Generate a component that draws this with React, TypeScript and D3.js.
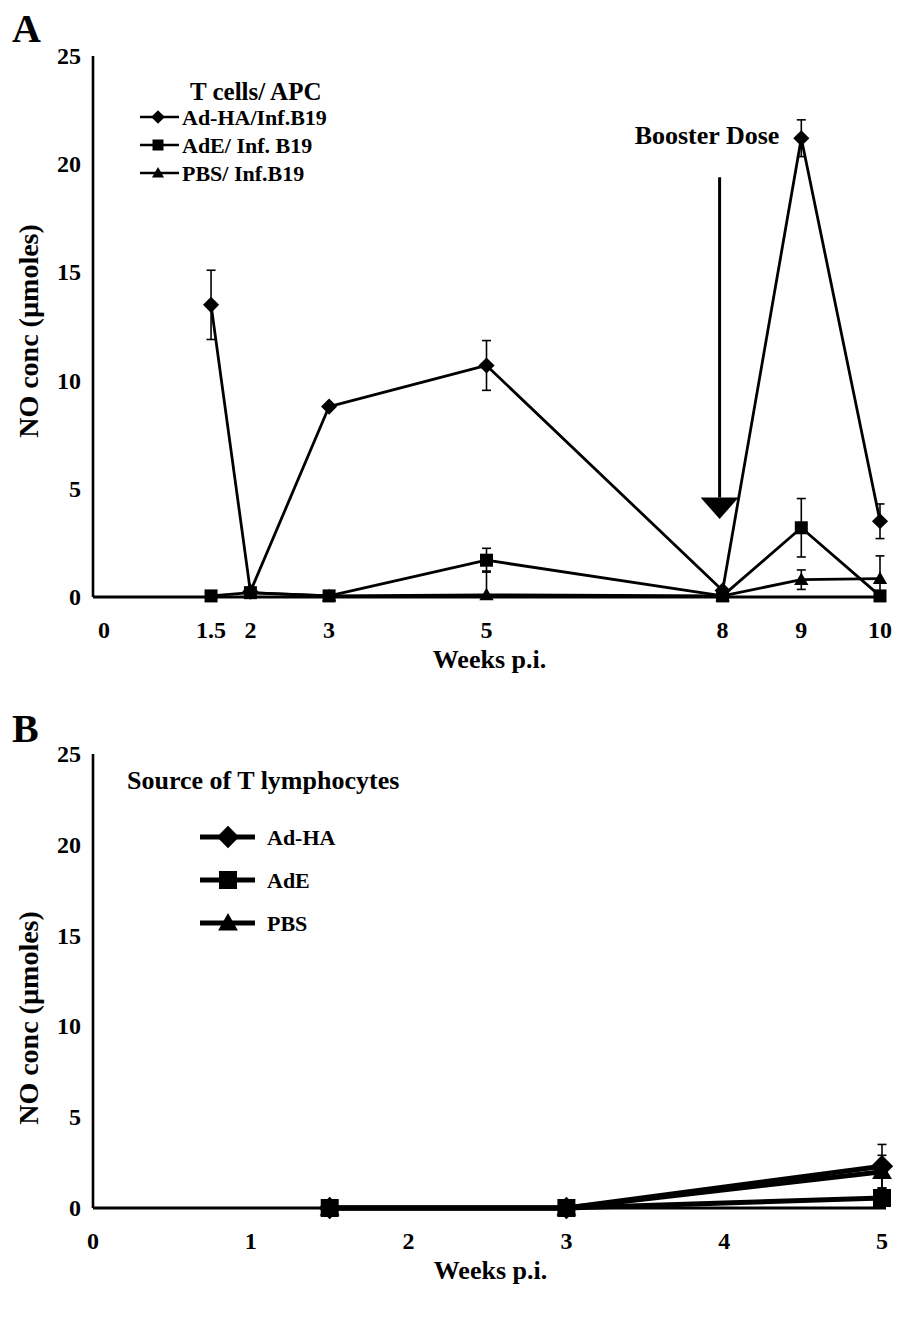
import React from "react";
import * as d3 from "d3";

// ---------- Data ----------
const ticksXA = [0, 1.5, 2, 3, 5, 8, 9, 10];
const ticksY = [0, 5, 10, 15, 20, 25];
const ticksXB = [0, 1, 2, 3, 4, 5];

const weeksA_HA = [1.5, 2, 3, 5, 8, 9, 10];
const adHA_A = [13.5, 0.25, 8.8, 10.7, 0.3, 21.2, 3.5];
const adHA_A_err = [1.6, 0, 0, 1.15, 0, 0.85, 0.8];

const weeksA_E = [1.5, 2, 3, 5, 8, 9, 10];
const adE_A = [0.05, 0.2, 0.05, 1.7, 0.05, 3.2, 0.05];
const adE_A_err = [0, 0, 0, 0.55, 0, 1.35, 0];

const weeksA_P = [2, 3, 5, 8, 9, 10];
const pbs_A = [0.2, 0.05, 0.1, 0.05, 0.8, 0.85];
const pbs_A_err = [0, 0, 1.1, 0, 0.45, 1.05];

const weeksB = [1.5, 3, 5];
const adHA_B = [0, 0, 2.3];
const adHA_B_err = [0, 0, 1.2];
const adE_B = [0, 0, 0.55];
const adE_B_err = [0, 0, 0];
const pbs_B = [0, 0, 2.0];
const pbs_B_err = [0, 0, 0.9];

const legendA = ["Ad-HA/Inf.B19", "AdE/ Inf. B19", "PBS/ Inf.B19"];
const legendB = ["Ad-HA", "AdE", "PBS"];

const FONT = "'Liberation Serif', 'Times New Roman', serif";

type Shape = "diamond" | "square" | "triangle";

function Marker({ x, y, shape, s }: { x: number; y: number; shape: Shape; s: number }) {
  if (shape === "square") {
    return <rect x={x - s / 2} y={y - s / 2} width={s} height={s} fill="#000" />;
  }
  if (shape === "diamond") {
    const h = s * 0.62;
    return (
      <path d={`M${x},${y - h}L${x + h},${y}L${x},${y + h}L${x - h},${y}Z`} fill="#000" />
    );
  }
  const h = s * 0.55;
  return (
    <path d={`M${x},${y - h}L${x + h},${y + h * 0.75}L${x - h},${y + h * 0.75}Z`} fill="#000" />
  );
}

type Series = { weeks: number[]; vals: number[]; err: number[]; shape: Shape };

function Panel({
  top,
  bottom,
  xDomainMax,
  xRangeMax,
  xTicks,
  series,
  lineW,
  markerS,
  letter,
  letterY,
  titleY,
}: {
  top: number;
  bottom: number;
  xDomainMax: number;
  xRangeMax: number;
  xTicks: number[];
  series: Series[];
  lineW: number;
  markerS: number;
  letter: string;
  letterY: number;
  titleY: number;
}) {
  const x = d3.scaleLinear().domain([0, xDomainMax]).range([93, xRangeMax]);
  const y = d3.scaleLinear().domain([0, 25]).range([bottom, top]);
  const line = d3
    .line<[number, number]>()
    .x((d) => x(d[0]))
    .y((d) => y(d[1]));
  return (
    <g>
      <text x={12} y={letterY} fontFamily={FONT} fontWeight="bold" fontSize={40}>
        {letter}
      </text>
      {/* axes */}
      <line x1={x(0)} x2={x(0)} y1={y(25)} y2={y(0)} stroke="#000" strokeWidth={2.6} />
      <line x1={x(0)} x2={x(xDomainMax) + 4} y1={y(0)} y2={y(0)} stroke="#000" strokeWidth={3} />
      {ticksY.map((t) => (
        <text
          key={t}
          x={x(0) - 12}
          y={y(t) + 8}
          textAnchor="end"
          fontFamily={FONT}
          fontWeight="bold"
          fontSize={24}
        >
          {t}
        </text>
      ))}
      {xTicks.map((t) => (
        <text
          key={t}
          x={t === 0 && xDomainMax === 10 ? x(t) + 11 : x(t)}
          y={y(0) + 41}
          textAnchor="middle"
          fontFamily={FONT}
          fontWeight="bold"
          fontSize={24}
        >
          {t}
        </text>
      ))}
      <text
        x={(x(0) + x(xDomainMax)) / 2 + 3}
        y={y(0) + 71}
        textAnchor="middle"
        fontFamily={FONT}
        fontWeight="bold"
        fontSize={26}
      >
        Weeks p.i.
      </text>
      <text
        transform={`translate(38,${titleY}) rotate(-90)`}
        textAnchor="middle"
        fontFamily={FONT}
        fontWeight="bold"
        fontSize={28}
      >
        NO conc (µmoles)
      </text>
      {series.map((s, i) => (
        <g key={i}>
          <path
            d={line(s.weeks.map((w, j) => [w, s.vals[j]] as [number, number])) || ""}
            fill="none"
            stroke="#000"
            strokeWidth={lineW}
            strokeLinejoin="round"
          />
          {s.weeks.map((w, j) =>
            s.err[j] > 0 ? (
              <g key={"e" + j}>
                <line
                  x1={x(w)}
                  x2={x(w)}
                  y1={y(s.vals[j] + s.err[j])}
                  y2={y(Math.max(0, s.vals[j] - s.err[j]))}
                  stroke="#000"
                  strokeWidth={1.6}
                />
                <line
                  x1={x(w) - 4.5}
                  x2={x(w) + 4.5}
                  y1={y(s.vals[j] + s.err[j])}
                  y2={y(s.vals[j] + s.err[j])}
                  stroke="#000"
                  strokeWidth={1.6}
                />
                {s.vals[j] - s.err[j] > 0 && (
                  <line
                    x1={x(w) - 4.5}
                    x2={x(w) + 4.5}
                    y1={y(s.vals[j] - s.err[j])}
                    y2={y(s.vals[j] - s.err[j])}
                    stroke="#000"
                    strokeWidth={1.6}
                  />
                )}
              </g>
            ) : null
          )}
          {s.weeks.map((w, j) => (
            <Marker key={"m" + j} x={x(w)} y={y(s.vals[j])} shape={s.shape} s={markerS} />
          ))}
        </g>
      ))}
    </g>
  );
}

export default function App() {
  const shapes: Shape[] = ["diamond", "square", "triangle"];
  const seriesA: Series[] = [
    { weeks: weeksA_HA, vals: adHA_A, err: adHA_A_err, shape: "diamond" },
    { weeks: weeksA_P, vals: pbs_A, err: pbs_A_err, shape: "triangle" },
    { weeks: weeksA_E, vals: adE_A, err: adE_A_err, shape: "square" },
  ];
  const seriesB: Series[] = [
    { weeks: weeksB, vals: adHA_B, err: adHA_B_err, shape: "diamond" },
    { weeks: weeksB, vals: pbs_B, err: pbs_B_err, shape: "triangle" },
    { weeks: weeksB, vals: adE_B, err: adE_B_err, shape: "square" },
  ];
  const xA = d3.scaleLinear().domain([0, 10]).range([93, 880]);
  const yA = d3.scaleLinear().domain([0, 25]).range([597, 56]);
  const ax = xA(8) - 3;
  return (
    <svg
      width={899}
      height={1318}
      style={{ position: "absolute", left: 0, top: 0, background: "#fff" }}
    >
      <rect width={899} height={1318} fill="#fff" />
      <Panel
        top={56}
        bottom={597}
        xDomainMax={10}
        xRangeMax={880}
        xTicks={ticksXA}
        series={seriesA}
        lineW={2.8}
        markerS={13}
        letter="A"
        letterY={42}
        titleY={331}
      />
      {/* Legend A */}
      <text x={190} y={100} fontFamily={FONT} fontWeight="bold" fontSize={25}>
        T cells/ APC
      </text>
      {legendA.map((l, i) => (
        <g key={l}>
          <line x1={140} x2={179} y1={117 + i * 28} y2={117 + i * 28} stroke="#000" strokeWidth={2.6} />
          <Marker x={158} y={117 + i * 28} shape={shapes[i]} s={11} />
          <text x={182} y={125 + i * 28} fontFamily={FONT} fontWeight="bold" fontSize={22}>
            {l}
          </text>
        </g>
      ))}
      {/* Booster arrow */}
      <text x={707} y={144} textAnchor="middle" fontFamily={FONT} fontWeight="bold" fontSize={26}>
        Booster Dose
      </text>
      <line x1={ax} x2={ax} y1={yA(19.4)} y2={yA(4.6)} stroke="#000" strokeWidth={3} />
      <path
        d={`M${ax - 19},${yA(4.6)}L${ax + 19},${yA(4.6)}L${ax},${yA(3.6)}Z`}
        fill="#000"
      />

      <Panel
        top={754}
        bottom={1208}
        xDomainMax={5}
        xRangeMax={882}
        xTicks={ticksXB}
        series={seriesB}
        lineW={5}
        markerS={18}
        letter="B"
        letterY={742}
        titleY={1018}
      />
      {/* Legend B */}
      <text x={127} y={789} fontFamily={FONT} fontWeight="bold" fontSize={26}>
        Source of T lymphocytes
      </text>
      {legendB.map((l, i) => (
        <g key={l}>
          <line x1={200} x2={255} y1={837 + i * 43} y2={837 + i * 43} stroke="#000" strokeWidth={5} />
          <Marker x={228} y={837 + i * 43} shape={shapes[i]} s={18} />
          <text x={267} y={845 + i * 43} fontFamily={FONT} fontWeight="bold" fontSize={22}>
            {l}
          </text>
        </g>
      ))}
    </svg>
  );
}
